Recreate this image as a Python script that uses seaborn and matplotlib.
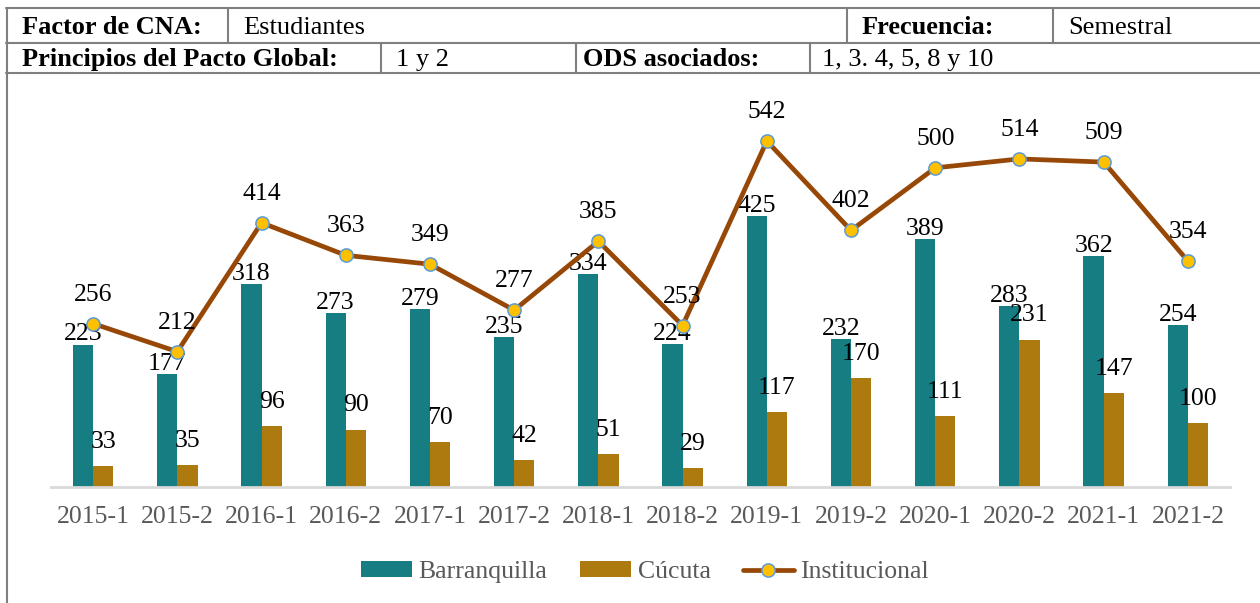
import matplotlib
matplotlib.use("Agg")
import matplotlib.pyplot as plt
from matplotlib.lines import Line2D
import seaborn as sns
import pandas as pd
import numpy as np

# data
periodos = ["2015-1", "2015-2", "2016-1", "2016-2", "2017-1", "2017-2", "2018-1",
            "2018-2", "2019-1", "2019-2", "2020-1", "2020-2", "2021-1", "2021-2"]
barranquilla = [223, 177, 318, 273, 279, 235, 334, 224, 425, 232, 389, 283, 362, 254]
cucuta = [33, 35, 96, 90, 70, 42, 51, 29, 117, 170, 111, 231, 147, 100]
institucional = [256, 212, 414, 363, 349, 277, 385, 253, 542, 402, 500, 514, 509, 354]

# header table cells: (label, is_bold)
fila1 = [("Factor de CNA:", True), ("Estudiantes", False), ("Frecuencia:", True), ("Semestral", False)]
fila2 = [("Principios del Pacto Global:", True), ("1 y 2", False),
         ("ODS asociados:", True), ("1, 3. 4, 5, 8 y 10", False)]

TEAL = "#167E83"
GOLD = "#AD7A10"
BROWN = "#974806"
GREY_TXT = "#595959"
BORDER = "#7F7F7F"

sns.set_theme(style="white")
plt.rcParams["font.family"] = ["Liberation Serif", "DejaVu Serif"]

W, H = 1260, 603
fig = plt.figure(figsize=(W / 100, H / 100), dpi=100)


def fx(px):
    return px / W


def fy(py):
    return 1 - py / H


# ---- header table ----
def hline(y, x0, x1):
    fig.add_artist(Line2D([fx(x0), fx(x1)], [fy(y), fy(y)], color=BORDER, lw=1.5))


def vline(x, y0, y1):
    fig.add_artist(Line2D([fx(x), fx(x)], [fy(y0), fy(y1)], color=BORDER, lw=1.5))


hline(8, 6, W)
hline(43, 6, W)
hline(73, 6, W)
vline(7, 8, H)
for x in [228, 847, 1053]:
    vline(x, 8, 43)
for x in [381, 576, 810]:
    vline(x, 43, 73)

for (txt, bold), x in zip(fila1, [22, 243, 862, 1068]):
    fig.text(fx(x), fy(34), txt, fontsize=19, fontweight="bold" if bold else "normal",
             color="black", va="baseline", ha="left")
for (txt, bold), x in zip(fila2, [22, 396, 583, 822]):
    fig.text(fx(x), fy(66), txt, fontsize=19, fontweight="bold" if bold else "normal",
             color="black", va="baseline", ha="left")

# ---- chart ----
ax = fig.add_axes([fx(51), fy(487), fx(1230) - fx(51), (487 - 104) / H])

df = pd.DataFrame({
    "periodo": periodos * 2,
    "sede": ["Barranquilla"] * len(periodos) + ["Cúcuta"] * len(periodos),
    "valor": barranquilla + cucuta,
})
sns.barplot(data=df, x="periodo", y="valor", hue="sede", palette=[TEAL, GOLD],
            width=0.48, saturation=1, gap=0, ax=ax, linewidth=0)

xpos = np.arange(len(periodos))
sns.lineplot(x=xpos, y=institucional, color=BROWN, lw=3.4, marker="o", markersize=9.5,
             markerfacecolor="#FFC000", markeredgecolor="#5B9BD5", markeredgewidth=1.1,
             label="Institucional", ax=ax, zorder=5)

ax.set_xlim(-0.5, len(periodos) - 0.5)
ax.set_ylim(0, 600)
ax.set_xlabel("")
ax.set_ylabel("")
ax.set_yticks([])
ax.tick_params(axis="x", length=0, pad=14, labelsize=18.5, labelcolor=GREY_TXT)
for s in ["top", "left", "right"]:
    ax.spines[s].set_visible(False)
ax.spines["bottom"].set_color("#D9D9D9")
ax.spines["bottom"].set_linewidth(2)

# data labels
for i in range(len(periodos)):
    ax.annotate(str(barranquilla[i]), (i - 0.12, barranquilla[i]), xytext=(0, 3),
                textcoords="offset points", ha="center", va="baseline", fontsize=18.5, color="black")
    ax.annotate(str(cucuta[i]), (i + 0.12, cucuta[i]), xytext=(0, 13),
                textcoords="offset points", ha="center", va="baseline", fontsize=18.5, color="black")
    ax.annotate(str(institucional[i]), (i, institucional[i]), xytext=(0, 16.5),
                textcoords="offset points", ha="center", va="baseline", fontsize=18.5,
                color="black", zorder=6)

handles, labels = ax.get_legend_handles_labels()
ax.get_legend().remove()
fig.legend(handles, labels, loc="center", bbox_to_anchor=(fx(645), fy(572)), ncol=3,
           frameon=False, fontsize=18.5, labelcolor=GREY_TXT, handlelength=2.0,
           handleheight=0.55, handletextpad=0.25, columnspacing=1.25)

fig.savefig("out.png", dpi=100)
